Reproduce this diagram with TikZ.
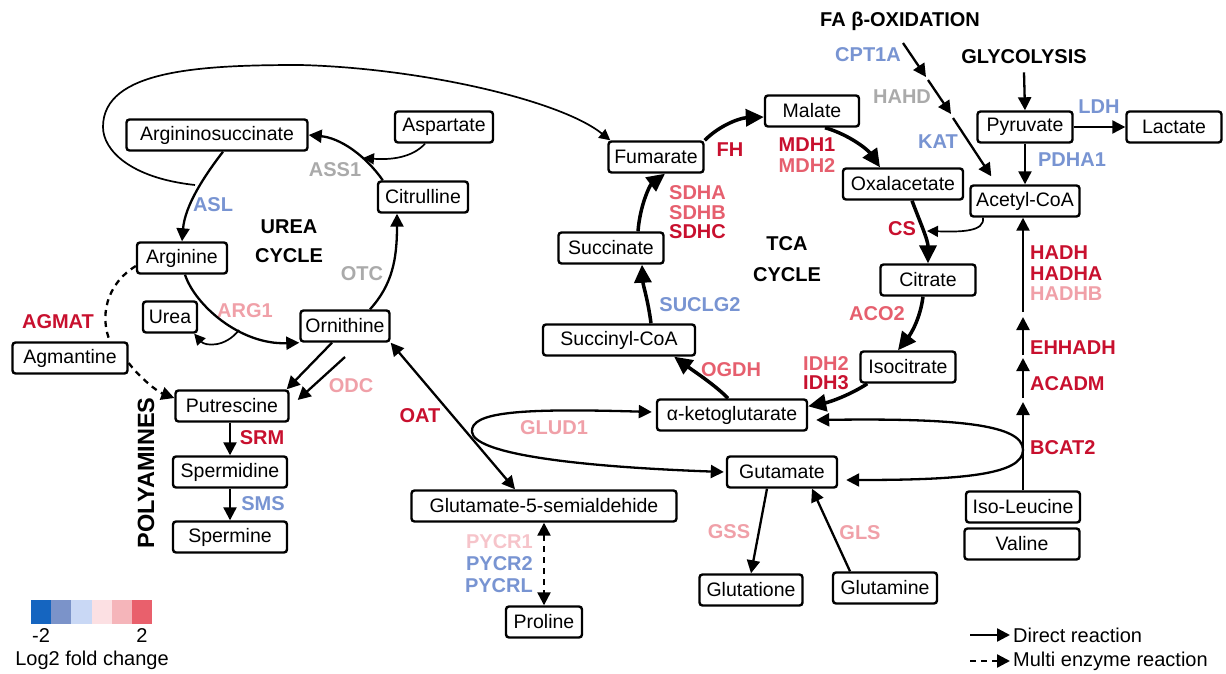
\documentclass[tikz,border=0pt]{standalone}
\usepackage{fontspec}
\setmainfont{Liberation Sans}
\usetikzlibrary{arrows.meta,calc}
\definecolor{cred}{RGB}{200,16,46}
\definecolor{cmpink}{RGB}{230,95,110}
\definecolor{clpink}{RGB}{240,160,168}
\definecolor{cvlpink}{RGB}{246,196,202}
\definecolor{cblue}{RGB}{120,148,210}
\definecolor{cgrey}{RGB}{170,170,170}
\definecolor{lgA}{RGB}{21,101,192}
\definecolor{lgB}{RGB}{123,147,201}
\definecolor{lgC}{RGB}{201,216,245}
\definecolor{lgD}{RGB}{252,224,227}
\definecolor{lgE}{RGB}{245,181,186}
\definecolor{lgF}{RGB}{233,96,108}
\tikzset{
  box/.style={draw, line width=2.4pt, rounded corners=3pt, minimum height=31pt, inner sep=0pt, font=\fontsize{19.5}{22}\selectfont},
  lab/.style={font=\bfseries\fontsize{20}{22}\selectfont, inner sep=0pt},
  reg/.style={font=\fontsize{20}{22}\selectfont, inner sep=0pt},
  rx/.style={line width=2.3pt, -{Triangle[length=13pt,width=13pt]}},
  rxx/.style={line width=2.3pt, {Triangle[length=13pt,width=13pt]}-{Triangle[length=13pt,width=13pt]}},
  tca/.style={line width=3.5pt, -{Triangle[length=18pt,width=17pt]}},
  thinrx/.style={line width=1.7pt, -{Triangle[length=11pt,width=11pt]}},
  dsh/.style={dash pattern=on 6pt off 5pt},
}
\begin{document}
\begin{tikzpicture}[x=1pt,y=-1pt]
\useasboundingbox (0,0) rectangle (1226,674);
\fill[white] (0,0) rectangle (1226,674);

% ---------- boxes ----------
\node[box, minimum width=181pt] (argsuc) at (217,135) {Argininosuccinate};
\node[box, minimum width=98pt] (asp) at (444,127) {Aspartate};
\node[box, minimum width=90pt] (cit) at (423,197) {Citrulline};
\node[box, minimum width=90pt] (arg) at (182,258) {Arginine};
\node[box, minimum width=54pt] (urea) at (170,317) {Urea};
\node[box, minimum width=89pt] (orn) at (345,326) {Ornithine};
\node[box, minimum width=115pt] (agm) at (70,358) {Agmantine};
\node[box, minimum width=113pt] (put) at (232,406) {Putrescine};
\node[box, minimum width=114pt] (spd) at (230,472) {Spermidine};
\node[box, minimum width=114pt] (spm) at (230,537) {Spermine};
\node[box, minimum width=95pt] (fum) at (656,157) {Fumarate};
\node[box, minimum width=94pt] (mal) at (812,111) {Malate};
\node[box, minimum width=120pt] (oxa) at (903,184) {Oxalacetate};
\node[box, minimum width=109pt] (acc) at (1025,201) {Acetyl-CoA};
\node[box, minimum width=95pt] (pyr) at (1025,127) {Pyruvate};
\node[box, minimum width=95pt] (lac) at (1174,127) {Lactate};
\node[box, minimum width=95pt] (citr) at (928,280) {Citrate};
\node[box, minimum width=95pt] (iso) at (908,367) {Isocitrate};
\node[box, minimum width=150pt] (akg) at (732,415) {α-ketoglutarate};
\node[box, minimum width=152pt] (sucoa) at (619,340) {Succinyl-CoA};
\node[box, minimum width=105pt] (succ) at (611,248) {Succinate};
\node[box, minimum width=110pt] (glu) at (782,472) {Gutamate};
\node[box, minimum width=265pt] (g5s) at (544,506) {Glutamate-5-semialdehide};
\node[box, minimum width=76pt] (pro) at (544,622) {Proline};
\node[box, minimum width=103pt] (gth) at (751,590) {Glutatione};
\node[box, minimum width=104pt] (gln) at (885,588) {Glutamine};
\node[box, minimum width=114pt] (ile) at (1023,507) {Iso-Leucine};
\node[box, minimum width=115pt] (val) at (1022,544) {Valine};

% ---------- titles ----------
\node[lab] (tUrea) at (289,227) {UREA};
\node[lab] (tUreaC) at (289,256) {CYCLE};
\node[lab] (tTca) at (787,244) {TCA};
\node[lab] (tTcaC) at (787,275) {CYCLE};
\node[lab] (tFa) at (900,21) {FA β-OXIDATION};
\node[lab] (glyc) at (1024,57) {GLYCOLYSIS};
\node[lab, font=\bfseries\fontsize{23.5}{26}\selectfont, rotate=90] (tPoly) at (146,473) {POLYAMINES};

% ---------- enzyme labels ----------
\node[lab, text=cblue] (eASL) at (213,205) {ASL};
\node[lab, text=cgrey] (eASS) at (335,170) {ASS1};
\node[lab, text=cgrey] (eOTC) at (362,274) {OTC};
\node[lab, text=clpink] (eARG) at (245,311) {ARG1};
\node[lab, text=cred] (eAGM) at (58,322) {AGMAT};
\node[lab, text=clpink] (eODC) at (351,386) {ODC};
\node[lab, text=cred] (eOAT) at (420,416) {OAT};
\node[lab, text=cred] (eSRM) at (262,438) {SRM};
\node[lab, text=cblue] (eSMS) at (263,504) {SMS};
\node[lab, text=cred] (eFH) at (730,150) {FH};
\node[lab, text=cred] (eMDH1) at (807,145) {MDH1};
\node[lab, text=cmpink] (eMDH2) at (807,166) {MDH2};
\node[lab, text=cmpink, anchor=west] (eSDHA) at (669,193) {SDHA};
\node[lab, text=cmpink, anchor=west] (eSDHB) at (669,213) {SDHB};
\node[lab, text=cred, anchor=west] (eSDHC) at (669,232) {SDHC};
\node[lab, text=cblue] (eSUC) at (700,305) {SUCLG2};
\node[lab, text=cmpink] (eOGDH) at (731,370) {OGDH};
\node[lab, text=cmpink] (eIDH2) at (826,364) {IDH2};
\node[lab, text=cred] (eIDH3) at (826,383) {IDH3};
\node[lab, text=clpink] (eGLUD) at (554,428) {GLUD1};
\node[lab, text=cred] (eCS) at (902,229) {CS};
\node[lab, text=cmpink] (eACO) at (877,314) {ACO2};
\node[lab, text=cblue] (eCPT) at (868,55) {CPT1A};
\node[lab, text=cgrey] (eHAHD) at (902,97) {HAHD};
\node[lab, text=cblue] (eKAT) at (938,142) {KAT};
\node[lab, text=cblue] (eLDH) at (1099,107) {LDH};
\node[lab, text=cblue] (ePDH) at (1072,160) {PDHA1};
\node[lab, text=cred, anchor=west] (eHADH) at (1030,253) {HADH};
\node[lab, text=cred, anchor=west] (eHADHA) at (1030,274) {HADHA};
\node[lab, text=clpink, anchor=west] (eHADHB) at (1030,294) {HADHB};
\node[lab, text=cred, anchor=west] (eEHH) at (1030,348) {EHHADH};
\node[lab, text=cred, anchor=west] (eACAD) at (1030,384) {ACADM};
\node[lab, text=cred, anchor=west] (eBCAT) at (1030,448) {BCAT2};
\node[lab, text=clpink] (eGSS) at (729,532) {GSS};
\node[lab, text=clpink] (eGLS) at (860,533) {GLS};
\node[lab, text=cvlpink, anchor=east] (ePY1) at (533,542) {PYCR1};
\node[lab, text=cblue, anchor=east] (ePY2) at (533,564) {PYCR2};
\node[lab, text=cblue, anchor=east] (ePYL) at (533,586) {PYCRL};

% ---------- urea cycle ----------
\draw[rx] ([xshift=6pt]cit.north west) .. controls (365,155) and (340,138) .. (argsuc.east);
\coordinate (assj) at (363,158);
\draw[thinrx] ([xshift=-19pt]asp.south) .. controls (412,158) and (390,160) .. (assj);
\draw[rx] ([xshift=6pt]argsuc.south) .. controls (205,175) and (185,205) .. (arg.north);
\coordinate (loopst) at (195,185);
\draw[thinrx] (loopst) .. controls (130,178) and (103,150) .. (103,127)
  .. controls (103,70) and (200,65) .. (300,65)
  .. controls (420,68) and (560,100) .. ([xshift=3pt]fum.north west);
\draw[rx] ([xshift=3pt]arg.south) .. controls (195,305) and (240,345) .. (orn.south west);
\coordinate (ureaj) at (239,330);
\draw[thinrx] (ureaj) .. controls (225,348) and (205,346) .. ([xshift=-4pt]urea.south east);
\draw[rx] ([xshift=25pt]orn.north) .. controls (392,285) and (397,260) .. ([xshift=-26pt]cit.south);
\draw[rx] ([xshift=-13pt]orn.south) -- ([xshift=-3pt]put.north east);
\coordinate (odcs) at (345,357);
\draw[rx] (odcs) -- ([xshift=8pt,yshift=6pt]put.east);
\draw[line width=2.3pt, dsh] ([yshift=-8pt]arg.west) .. controls (105,285) and (100,318) .. ([xshift=40pt]agm.north);
\draw[rx, dsh] ([yshift=-5pt]agm.east) .. controls (140,378) and (158,392) .. ([yshift=8pt]put.west);
\draw[rx] (spd.north |- put.south) -- (spd.north);
\draw[rx] (spd.south) -- (spm.north);
\draw[rxx] (orn.south east) -- ([xshift=-29pt]g5s.north);

% ---------- TCA cycle ----------
\draw[tca] (fum.north east) .. controls (720,125) and (740,118) .. ([yshift=-6pt]mal.west);
\draw[tca] ([xshift=13pt]mal.south) .. controls (850,135) and (868,150) .. ([xshift=-23pt]oxa.north);
\draw[tca] ([xshift=9pt]oxa.south) .. controls (920,222) and (928,240) .. (citr.north);
\coordinate (csj) at (927,231);
\draw[thinrx] ([xshift=-42pt]acc.south) .. controls (985,232) and (960,232) .. (csj);
\draw[tca] ([xshift=-5pt]citr.south) .. controls (920,320) and (910,335) .. ([xshift=-10pt]iso.north);
\draw[tca] ([xshift=8pt]iso.south west) .. controls (850,395) and (830,402) .. ([yshift=-8pt]akg.north east);
\draw[tca] ([xshift=-4pt]akg.north) .. controls (715,385) and (695,372) .. ([xshift=-22pt]sucoa.south east);
\draw[tca] ([xshift=32pt]sucoa.north) .. controls (648,300) and (643,285) .. ([xshift=31pt]succ.south);
\draw[tca] ([xshift=27pt]succ.north) .. controls (640,205) and (650,185) .. ([xshift=9pt]fum.south);

% ---------- FA oxidation / glycolysis ----------
\coordinate (fa1) at (903,43);
\coordinate (fa2) at (926,77);
\coordinate (fa2b) at (928,80);
\coordinate (fa3) at (951,114);
\coordinate (fa3b) at (953,118);
\draw[rx] (fa1) -- (fa2);
\draw[rx] (fa2b) -- (fa3);
\draw[rx] (fa3b) -- ([xshift=22pt,yshift=8pt]acc.north west);
\draw[rx] ([yshift=-8pt]glyc.south) -- (pyr.north);
\draw[rx] (pyr.south) -- (acc.north);
\draw[rx] (pyr.east) -- (lac.west);

% ---------- branched chain ----------
\coordinate (v1) at (1023,402);
\coordinate (v1b) at (1023,398);
\coordinate (v2) at (1023,358);
\coordinate (v2b) at (1023,355);
\coordinate (v3) at (1023,317);
\coordinate (v3b) at (1023,312);
\draw[rx] (ile.north) -- (v1);
\draw[rx] (v1b) -- (v2);
\draw[rx] (v2b) -- (v3);
\draw[rx] (v3b) -- (acc.south -| ile.north);
\draw[rxx] ([xshift=8pt,yshift=-5pt]akg.east) .. controls (960,418) and (1023,425) .. (1023,450)
  .. controls (1023,475) and (960,480) .. ([xshift=8pt,yshift=-8pt]glu.east);

% ---------- glutamate ----------
\draw[rxx] ([xshift=-4pt,yshift=3pt]akg.west) .. controls (520,408) and (470,412) .. (472,432)
  .. controls (474,452) and (560,466) .. ([xshift=-2pt]glu.west);
\draw[rx] ([xshift=-15pt]glu.south) -- (gth.north);
\draw[rx] ([xshift=-35pt]gln.north) -- ([xshift=30pt]glu.south);
\draw[rxx, dsh] (g5s.south) -- (pro.north);

% ---------- legends ----------
\foreach \c [count=\i] in {lgA,lgB,lgC,lgD,lgE,lgF}
  \fill[\c] ({31+(\i-1)*20.2},600) rectangle ++(20.2,24);
\node[reg] (lmin) at (41,636) {-2};
\node[reg] (lmax) at (142,636) {2};
\node[reg] (lfold) at (92,660) {Log2 fold change};
\coordinate (l1a) at (970,635);
\coordinate (l1b) at (1010,635);
\coordinate (l2a) at (970,661);
\coordinate (l2b) at (1010,661);
\draw[rx] (l1a) -- (l1b);
\draw[rx, dsh] (l2a) -- (l2b);
\node[reg, anchor=west] (ldir) at (1013,635) {Direct reaction};
\node[reg, anchor=west] (lmul) at (1013,661) {Multi enzyme reaction};
\end{tikzpicture}
\end{document}
